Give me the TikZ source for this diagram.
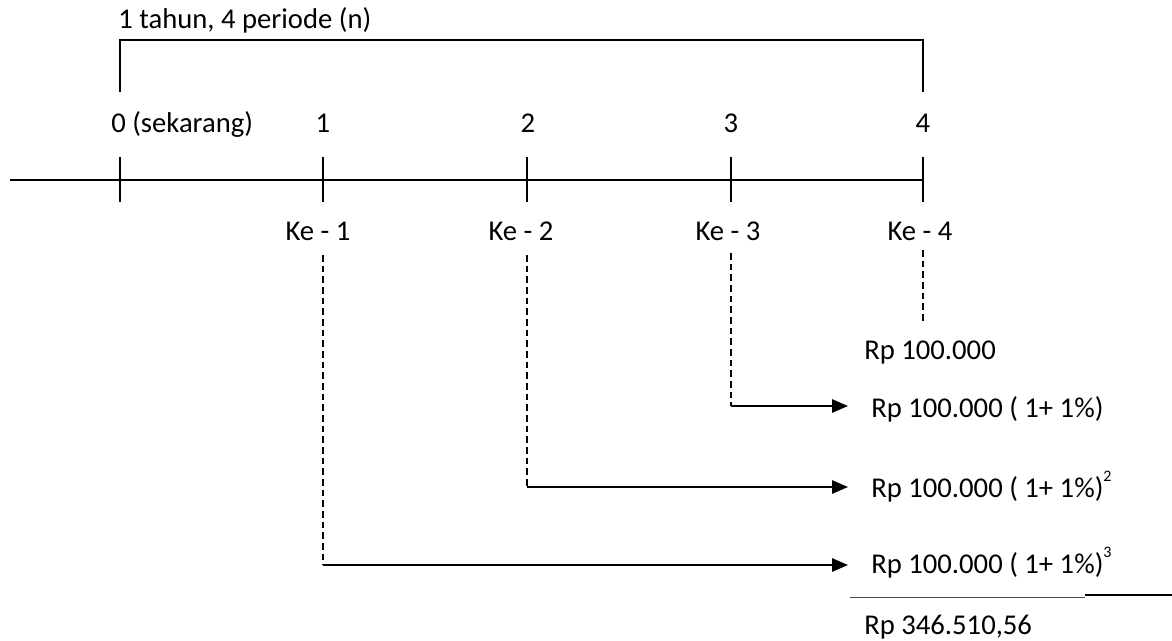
\documentclass[tikz,border=0pt]{standalone}
\usepackage{fontspec}
\setmainfont{Carlito}
\usetikzlibrary{arrows.meta}
\newcommand{\pw}[1]{\raisebox{0.55em}{\fontsize{12}{12}\selectfont #1}}
\begin{document}
\begin{tikzpicture}[x=0.75pt,y=-0.75pt,
  axis/.style={line width=1.1pt},
  guide/.style={line width=0.8pt, dash pattern=on 5pt off 3pt},
  flow/.style={line width=1.4pt, -{Triangle[length=12pt,width=10pt]}},
  txt/.style={inner sep=0pt, font=\fontsize{21.5}{25}\selectfont},
]
\useasboundingbox (0,0) rectangle (1172,640);

% time axis
\coordinate (a0) at (10,180);
\coordinate (a4) at (923,180);
\draw[axis] (a0) -- (a4);

% ticks
\foreach \i/\x in {0/120,1/323,2/527,3/731,4/923} {
  \coordinate (t\i) at (\x,180);
  \draw[axis] (\x,157) -- (\x,202);
}

% bracket spanning one year
\coordinate (b0) at (120,92);
\coordinate (b1) at (120,40);
\coordinate (b2) at (923,40);
\coordinate (b3) at (923,92);
\draw[axis] (b0) -- (b1) -- (b2) -- (b3);
\node[txt, anchor=base west] (title) at (118,28) {1 tahun, 4 periode (n)};

% period numbers
\node[txt, anchor=base west] (p0) at (111,132) {0 (sekarang)};
\node[txt, anchor=base] (p1) at (323,132) {1};
\node[txt, anchor=base] (p2) at (528,132) {2};
\node[txt, anchor=base] (p3) at (731,132) {3};
\node[txt, anchor=base] (p4) at (923,132) {4};

% payment labels
\node[txt, anchor=base] (k1) at (318,240) {Ke - 1};
\node[txt, anchor=base] (k2) at (521,240) {Ke - 2};
\node[txt, anchor=base] (k3) at (728,240) {Ke - 3};
\node[txt, anchor=base] (k4) at (920,240) {Ke - 4};

% compounded values
\node[txt, anchor=base west] (v4) at (864,359) {Rp 100.000};
\node[txt, anchor=base west] (v3) at (871,417) {Rp 100.000 ( 1+ 1\%)};
\node[txt, anchor=base west] (v2) at (871,497) {Rp 100.000 ( 1+ 1\%)\pw{2}};
\node[txt, anchor=base west] (v1) at (871,573) {Rp 100.000 ( 1+ 1\%)\pw{3}};
\node[txt, anchor=base west] (tot) at (864,634) {Rp 346.510,56};

% dashed drops below each payment
\coordinate (d1a) at (323,255); \coordinate (d1b) at (323,565);
\coordinate (d2a) at (527,255); \coordinate (d2b) at (527,487);
\coordinate (d3a) at (731,253); \coordinate (d3b) at (731,406);
\coordinate (d4a) at (923,250); \coordinate (d4b) at (923,322);
\draw[guide] (d1a) -- (d1b);
\draw[guide] (d2a) -- (d2b);
\draw[guide] (d3a) -- (d3b);
\draw[guide] (d4a) -- (d4b);

% arrows to future value
\coordinate (tip) at (848,0);
\draw[flow] (d3b) -- (d3b -| tip);
\draw[flow] (d2b) -- (d2b -| tip);
\draw[flow] (d1b) -- (d1b -| tip);

% sum line
\coordinate (s0) at (850,597);
\coordinate (s1) at (1085,597);
\coordinate (s2) at (1172,595);
\draw[line width=0.6pt, black!70] (s0) -- (s1);
\draw[line width=1.1pt] (s1 |- s2) -- (s2);
\end{tikzpicture}
\end{document}
